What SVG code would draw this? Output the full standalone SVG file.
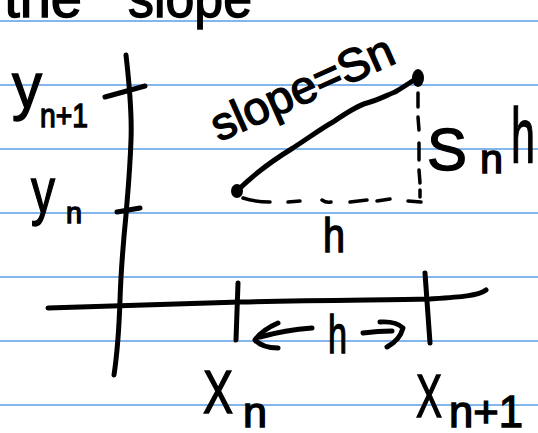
<svg xmlns="http://www.w3.org/2000/svg" width="538" height="433" viewBox="0 0 538 433">
<style>
.rule{stroke:#5a9fe6;stroke-width:1.6;fill:none}
.ink{stroke:#000;stroke-width:5;fill:none;stroke-linecap:round;stroke-linejoin:round}
.dash{stroke:#000;stroke-width:3.5;fill:none;stroke-linecap:round}
.t{font-family:"Liberation Sans",Arial,sans-serif;fill:#000;stroke:#000;stroke-width:1.4}
</style>
<rect width="538" height="433" fill="#fff"/>
<g id="rules">
<line class="rule" x1="0" y1="21" x2="538" y2="21"/>
<line class="rule" x1="0" y1="85" x2="538" y2="85"/>
<line class="rule" x1="0" y1="149" x2="538" y2="149"/>
<line class="rule" x1="0" y1="213" x2="538" y2="213"/>
<line class="rule" x1="0" y1="277" x2="538" y2="277"/>
<line class="rule" x1="0" y1="341" x2="538" y2="341"/>
<line class="rule" x1="0" y1="405" x2="538" y2="405"/>
</g>
<g id="title">
<text class="t" x="82" y="17" font-size="56" text-anchor="end">the</text>
<text class="t" x="128" y="17" font-size="56" textLength="124" lengthAdjust="spacingAndGlyphs">slope</text>
</g>
<g id="axes">
<path class="ink" d="M126 55 C130 90 132 115 131 140 C130 170 128 190 126 215 C123 245 121 270 120 300 C119 330 117 355 114 375"/>
<path class="ink" d="M48 308 C120 306 180 304 240 302 C320 300 380 300 430 299 C460 297 478 296 486 290"/>
</g>
<g id="ticks">
<path class="ink" d="M105 97 L145 86"/>
<path class="ink" d="M117 212 L140 208"/>
<path class="ink" d="M238 283 L236 340"/>
<path class="ink" d="M425 273 L430 343"/>
</g>
<g id="y-labels">
<text class="t" x="12" y="108" font-size="64" textLength="30" lengthAdjust="spacingAndGlyphs">y</text>
<text class="t" x="40" y="127" font-size="34" textLength="48" lengthAdjust="spacingAndGlyphs">n+1</text>
<text class="t" x="31" y="213" font-size="64" textLength="24" lengthAdjust="spacingAndGlyphs">y</text>
<text class="t" x="66" y="223" font-size="30" textLength="16" lengthAdjust="spacingAndGlyphs">n</text>
</g>
<g id="x-labels">
<text class="t" x="203" y="413" font-size="62" textLength="30" lengthAdjust="spacingAndGlyphs">X</text>
<text class="t" x="243" y="427" font-size="42" textLength="24" lengthAdjust="spacingAndGlyphs">n</text>
<text class="t" x="416" y="417" font-size="62" textLength="26" lengthAdjust="spacingAndGlyphs">X</text>
<text class="t" x="449" y="427" font-size="44" textLength="74" lengthAdjust="spacingAndGlyphs">n+1</text>
</g>
<g id="segment">
<path class="ink" d="M237 191 C250 178 270 162 293 148 C310 137 322 128 333 122 C345 114 356 106 367 103 C378 100 385 96 395 92 C402 88 408 84 414 80"/>
<path class="dash" d="M243 198 Q255 202 270 202 M288 202 L300 201 M322 200 Q326 203 331 202 M350 202 L367 200 M377 201 L390 199 M408 201 L421 202"/>
<path class="dash" d="M418 93 L418 107 M418 117 L419 130 M419 143 L419 160 M419 170 L420 183 M420 190 L420 197"/>
</g>
<g id="points">
<ellipse cx="237" cy="191" rx="6" ry="7" fill="#000"/>
<ellipse cx="418" cy="78" rx="6" ry="9" fill="#000"/>
</g>
<g id="segment-labels">
<text class="t" font-size="46" transform="translate(219 142) rotate(-24)" textLength="196" lengthAdjust="spacingAndGlyphs">slope=Sn</text>
<text class="t" x="427" y="170" font-size="60" textLength="40" lengthAdjust="spacingAndGlyphs">S</text>
<text class="t" x="480" y="173" font-size="40" textLength="23" lengthAdjust="spacingAndGlyphs">n</text>
<text class="t" x="511" y="163" font-size="78" textLength="24" lengthAdjust="spacingAndGlyphs">h</text>
<text class="t" x="323" y="252" font-size="48" textLength="22" lengthAdjust="spacingAndGlyphs">h</text>
</g>
<g id="h-arrow">
<path class="ink" d="M278 323 Q262 330 255 340 Q262 348 278 348"/>
<path class="ink" d="M260 337 Q285 330 312 328"/>
<text class="t" x="328" y="353" font-size="54" textLength="19" lengthAdjust="spacingAndGlyphs">h</text>
<path class="ink" d="M363 333 Q378 331 392 331"/>
<path class="ink" d="M380 322 Q396 321 403 328 Q400 340 387 347"/>
</g>
</svg>
